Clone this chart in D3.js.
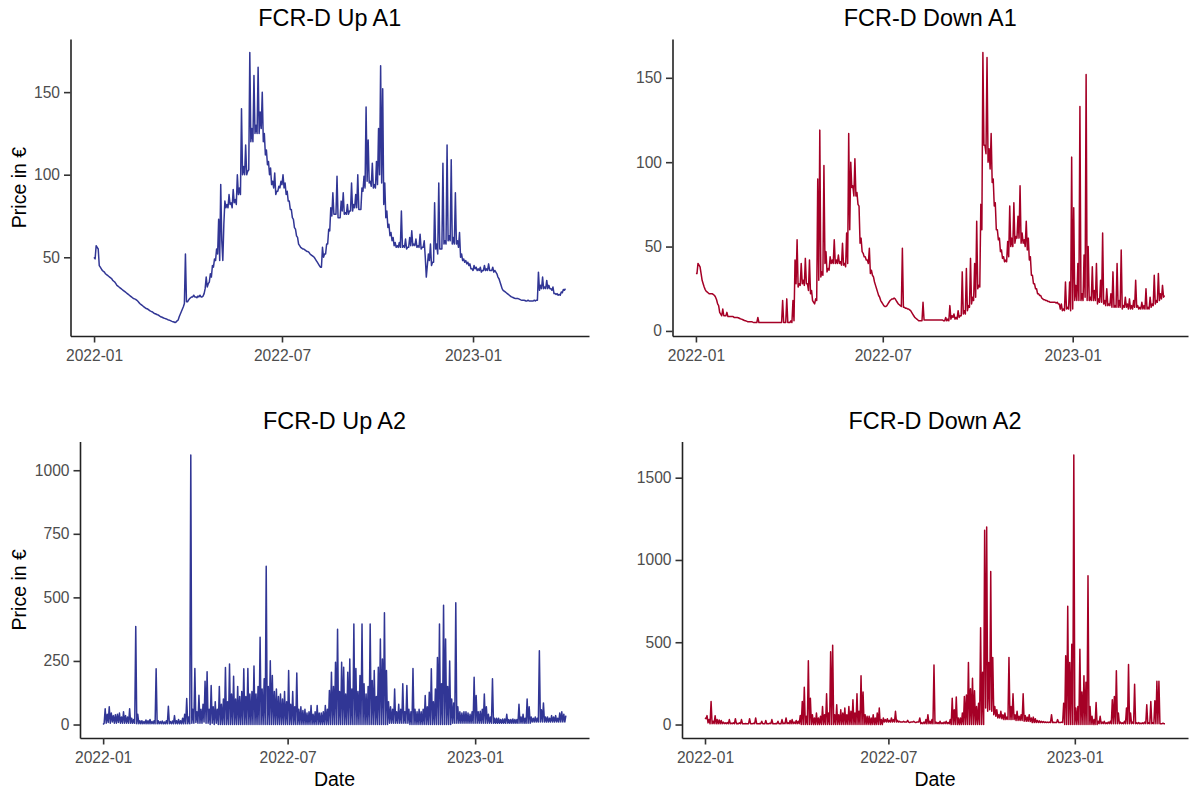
<!DOCTYPE html>
<html>
<head>
<meta charset="utf-8">
<script src="https://cdn.jsdelivr.net/npm/d3@7"></script>
<style>
  body { margin: 0; background: #fff; }
  svg text { font-family: "Liberation Sans", Arial, sans-serif; }
</style>
</head>
<body>
<svg id="chart"></svg>
<script>
// readings every 2 days from 2022-01-01 to 2023-03-31;
// the *Low arrays hold the bottom of the hourly band on the day in between
var startDate = new Date(2022, 0, 1);
var stepDays = 2;
var xTickDates = [new Date(2022, 0, 1), new Date(2022, 6, 1), new Date(2023, 0, 1)];

var upA1 = [
  50, 57, 55, 44, 42, 41, 39.5, 38.5, 37.5, 36,
  35, 33, 32, 31, 30, 29, 28, 27, 26, 25,
  24.5, 23.5, 22, 21, 20, 19, 18.5, 17.5, 17, 16,
  15.5, 15, 14, 13.5, 13, 12.5, 12, 11.5, 11, 10.5,
  11.5, 14, 17, 20, 52, 23, 25, 26, 27, 26,
  26.5, 27, 26, 28, 38, 34, 40, 45, 49, 55,
  73, 94, 48, 84, 82, 88, 83, 91, 85, 100,
  92, 140, 105, 118, 102, 174, 128, 160, 130, 165,
  138, 150, 125, 115, 108, 104, 96, 101, 90, 93,
  96, 100, 95, 90, 84, 79, 73, 67, 62, 57,
  55.5, 55, 54, 53.5, 52, 51, 50, 48, 46, 44,
  56, 52, 58, 67, 80, 89, 76, 99, 74, 84,
  89, 77, 82, 78, 95, 82, 88, 100, 79, 92,
  99, 141, 121, 96, 107, 94, 108, 128, 166, 152,
  95, 78, 70, 65, 62, 59, 57, 59, 78, 57,
  61, 56, 62, 66, 58, 61, 57, 64, 56, 60,
  38, 52, 58, 47, 83, 58, 95, 55, 107, 60,
  118, 63, 109, 62, 89, 60, 65, 52, 49, 48,
  47, 46, 43, 45, 44, 43, 44, 42, 45, 43,
  46, 42, 44, 42, 40, 37, 33, 30, 29, 28,
  27, 26, 25.5, 25, 25, 24.5, 24, 24, 23.5, 24,
  23.5, 23.5, 24, 24, 41, 33, 38, 32, 36, 33,
  31, 32, 28, 28, 27.5, 29, 30.5, 31
];

var upA1Low = [
  49, 56, 45, 43, 41.5, 40, 39, 38, 37, 35.5,
  34, 32.5, 31.5, 30.5, 29.5, 28.5, 27.5, 26.5, 25.5, 24.8,
  24, 22.8, 21.5, 20.5, 19.5, 18.8, 18, 17.2, 16.5, 15.8,
  15.2, 14.5, 13.8, 13.2, 12.8, 12.2, 11.8, 11.2, 10.8, 10.8,
  12, 15.5, 18.5, 22, 23, 24, 25.5, 26, 26, 25.5,
  26, 26, 26.5, 31, 32, 35, 38, 44, 48, 52,
  48, 60, 70, 80, 80, 82, 80, 83, 82, 88,
  88, 100, 100, 100, 103, 120, 120, 125, 125, 125,
  128, 120, 112, 106, 100, 94, 92, 88, 90, 92,
  94, 92, 88, 84, 79, 74, 68, 63, 58, 56,
  55, 54.5, 53.5, 53, 51.5, 50.5, 49, 47, 45, 44,
  50, 52, 58, 66, 75, 76, 76, 74, 74, 78,
  76, 76, 76, 78, 78, 80, 80, 79, 79, 90,
  92, 96, 95, 93, 92, 92, 94, 100, 95, 82,
  74, 68, 63, 60, 57, 56, 56, 56, 56, 56,
  55, 56, 57, 57, 57, 56, 56, 55, 56, 50,
  45, 48, 45, 47, 55, 52, 55, 55, 58, 58,
  60, 60, 58, 58, 58, 56, 50, 48, 47, 46,
  45, 43, 42, 43, 42, 42, 41, 42, 42, 42,
  42, 42, 41, 41, 38, 35, 31, 29.5, 28.5, 27.5,
  26.5, 25.8, 25.2, 25, 24.8, 24.2, 24, 23.8, 23.5, 23.5,
  23.5, 23.5, 23.5, 24, 30, 31, 31, 31, 31, 31,
  30, 28, 27.5, 27, 27, 28.5, 30
];

var downA1 = [
  34, 40, 38, 30, 26, 23.5, 22.5, 22, 22, 21,
  18.5, 15, 10, 13, 9, 11, 8.5, 8.5, 8.5, 8,
  8, 7.5, 7, 6.5, 6, 5.5, 5.5, 5.5, 5, 5,
  8, 5, 5, 5, 5, 5, 5, 5, 5, 5,
  5, 5, 18, 5, 19, 5, 6, 18, 42, 54,
  28, 40, 30, 43, 28, 42, 24, 17, 19, 90,
  119, 35, 98, 47, 37, 44, 42, 54, 42, 45,
  41, 52, 40, 58, 117, 100, 86, 102, 82, 74,
  55, 46, 44, 42, 49, 36, 32, 27, 23, 20,
  17, 15, 14.5, 16, 18, 19, 19.5, 18, 16, 15,
  49, 14, 13.5, 13, 12, 10, 8, 7, 6, 6,
  17, 6.5, 6.5, 6.5, 6.5, 6.5, 6.5, 6.5, 6.5, 6.5,
  6, 8, 7, 15, 9, 10, 8, 12, 9, 35,
  12, 37, 15, 43, 20, 40, 65, 27, 75, 165,
  110, 162, 108, 117, 90, 76, 60, 55, 48, 44,
  42, 53, 74, 55, 76, 56, 68, 86, 58, 54,
  65, 55, 44, 33, 28, 25, 22, 21, 19, 18.5,
  18, 17.5, 17, 17, 17, 17, 16, 16, 13, 29,
  14, 29, 103, 73, 27, 40, 133, 22, 45, 152,
  50, 20, 38, 24, 40, 19, 30, 58, 18, 25,
  16, 22, 35, 15, 40, 18, 48, 15, 20, 16,
  19, 15, 18, 30, 15, 14, 17, 15, 25, 14,
  20, 16, 33, 18, 34, 22, 27, 21
];

var downA1Low = [
  34, 39, 34, 28, 24.5, 23, 22, 22, 21.5, 20,
  16, 11, 9, 9, 9, 8.5, 8.5, 8.5, 8, 8,
  7.8, 7.2, 6.8, 6.2, 5.8, 5.5, 5.5, 5.2, 5, 5,
  5, 5, 5, 5, 5, 5, 5, 5, 5, 5,
  5, 5, 5, 5, 5, 5, 5, 6, 28, 26,
  27, 28, 27, 28, 24, 22, 18, 16, 18, 30,
  32, 33, 40, 35, 36, 40, 40, 40, 40, 40,
  39, 39, 38, 40, 60, 85, 80, 80, 75, 52,
  47, 44, 42, 40, 34, 33, 29, 25, 21, 18,
  16, 14.5, 15, 17, 18.5, 19, 19, 17, 15.5, 14.5,
  14, 13.5, 13, 12.5, 11, 9, 7.5, 6.5, 6, 6,
  6.5, 6.5, 6.5, 6.5, 6.5, 6.5, 6.5, 6.5, 6.5, 6.5,
  6, 6, 6, 7, 8, 7, 7, 8, 9, 10,
  10, 12, 14, 16, 18, 20, 25, 26, 60, 110,
  105, 100, 96, 88, 74, 60, 54, 47, 43, 41,
  41, 44, 50, 50, 52, 55, 55, 52, 52, 50,
  48, 42, 33, 28, 25, 22, 21, 19.5, 18.5, 18,
  17.5, 17, 17, 17, 16.5, 16, 13, 12, 12, 13,
  13, 12, 13, 18, 18, 18, 18, 18, 20, 18,
  18, 18, 18, 18, 16, 17, 17, 16, 15, 15,
  15, 14, 14, 14, 14, 14, 13, 14, 14, 13,
  13, 13, 14, 14, 13, 13, 13, 13, 13, 13,
  14, 15, 16, 17, 18, 19, 20
];

var upA2 = [
  0, 62, 40, 70, 45, 35, 38, 40, 45, 30,
  50, 35, 30, 62, 25, 20, 385, 40, 15, 15,
  12, 18, 15, 20, 12, 15, 219, 15, 12, 14,
  10, 15, 72, 12, 14, 35, 15, 20, 15, 25,
  40, 102, 30, 1060, 60, 220, 50, 115, 60, 80,
  170, 208, 60, 153, 70, 90, 60, 150, 80, 100,
  224, 90, 238, 120, 190, 100, 150, 110, 130, 219,
  110, 220, 120, 130, 230, 120, 150, 343, 140, 180,
  622, 150, 251, 193, 130, 140, 110, 120, 100, 130,
  90, 212, 80, 130, 70, 203, 60, 70, 55, 60,
  45, 50, 75, 40, 50, 75, 45, 45, 50, 75,
  60, 134, 206, 150, 245, 375, 130, 245, 225, 120,
  206, 258, 140, 395, 220, 130, 193, 395, 160, 120,
  150, 395, 173, 212, 110, 225, 336, 258, 440, 212,
  90, 70, 60, 140, 50, 80, 60, 160, 50, 153,
  60, 50, 220, 60, 50, 60, 50, 60, 114, 70,
  127, 219, 90, 140, 264, 395, 160, 469, 336, 150,
  250, 100, 85, 479, 70, 50, 45, 50, 50, 45,
  40, 50, 186, 114, 50, 52, 60, 120, 70, 40,
  30, 180, 25, 25, 25, 20, 22, 22, 40, 20,
  20, 22, 20, 20, 80, 30, 40, 25, 100, 70,
  30, 25, 30, 25, 290, 58, 85, 30, 30, 25,
  35, 30, 35, 25, 45, 50, 40, 35
];

var upA2Low = [
  5, 5, 8, 5, 10, 5, 5, 8, 5, 5,
  5, 5, 5, 5, 5, 5, 3, 3, 3, 3,
  3, 3, 3, 3, 3, 3, 3, 3, 3, 3,
  3, 3, 3, 3, 3, 3, 3, 3, 3, 3,
  3, 3, 3, 5, 5, 8, 5, 5, 5, 10,
  5, 5, 0, 5, 0, 5, 0, 0, 0, 0,
  0, 0, 0, 0, 0, 0, 0, 0, 0, 0,
  0, 0, 0, 0, 0, 0, 0, 0, 0, 0,
  0, 0, 0, 0, 0, 0, 0, 0, 0, 0,
  0, 0, 0, 0, 0, 0, 0, 0, 0, 0,
  0, 0, 0, 0, 0, 0, 0, 0, 0, 0,
  0, 0, 0, 0, 0, 0, 0, 0, 0, 0,
  0, 0, 0, 0, 0, 0, 0, 0, 0, 0,
  0, 0, 0, 0, 0, 0, 0, 0, 0, 0,
  5, 5, 5, 5, 5, 5, 5, 5, 5, 5,
  0, 0, 0, 0, 0, 0, 0, 0, 0, 0,
  0, 0, 0, 0, 0, 0, 0, 0, 0, 0,
  0, 5, 5, 5, 5, 5, 5, 5, 5, 5,
  5, 5, 5, 5, 5, 5, 5, 5, 5, 5,
  5, 5, 5, 5, 5, 5, 5, 5, 5, 5,
  5, 5, 5, 5, 5, 5, 5, 5, 5, 5,
  10, 10, 10, 10, 10, 10, 10, 10, 10, 10,
  10, 10, 10, 10, 10, 10, 10
];

var downA2 = [
  40, 54, 30, 140, 20, 54, 30, 28, 25, 15,
  10, 12, 30, 8, 10, 35, 6, 10, 30, 5,
  6, 5, 35, 5, 8, 40, 5, 6, 20, 5,
  25, 5, 8, 30, 5, 6, 20, 5, 30, 8,
  40, 10, 25, 30, 15, 25, 20, 55, 140, 227,
  50, 387, 160, 60, 40, 70, 40, 50, 110, 60,
  187, 70, 442, 482, 60, 120, 60, 90, 70, 100,
  60, 110, 80, 150, 70, 187, 80, 297, 197, 60,
  50, 50, 40, 60, 40, 70, 100, 30, 40, 30,
  35, 25, 40, 30, 80, 25, 20, 15, 20, 15,
  25, 12, 15, 20, 12, 15, 40, 10, 15, 30,
  60, 20, 30, 361, 15, 12, 20, 10, 15, 20,
  12, 30, 160, 90, 167, 40, 40, 70, 170, 180,
  377, 218, 281, 205, 110, 130, 588, 317, 1181, 1200,
  377, 930, 408, 110, 90, 60, 80, 60, 70, 45,
  408, 110, 187, 60, 80, 50, 60, 187, 55, 45,
  60, 40, 45, 35, 25, 22, 20, 18, 16, 15,
  15, 60, 14, 12, 30, 12, 15, 130, 418, 718,
  377, 488, 1638, 100, 110, 458, 197, 297, 257, 904,
  110, 50, 30, 134, 20, 50, 15, 20, 10, 15,
  20, 150, 170, 327, 70, 15, 10, 20, 100, 365,
  70, 15, 245, 10, 12, 8, 10, 15, 120, 10,
  140, 10, 144, 263, 263, 5, 8, 5
];

var downA2Low = [
  35, 10, 5, 5, 5, 5, 5, 5, 5, 5,
  5, 5, 5, 5, 5, 5, 5, 5, 5, 5,
  5, 5, 5, 5, 5, 5, 5, 5, 5, 5,
  5, 5, 5, 5, 5, 5, 5, 5, 5, 5,
  5, 5, 5, 5, 5, 5, 5, 0, 0, 0,
  0, 0, 0, 0, 0, 0, 0, 0, 0, 0,
  0, 0, 0, 0, 0, 0, 0, 0, 0, 0,
  0, 0, 0, 0, 0, 0, 0, 0, 0, 0,
  0, 0, 0, 0, 0, 0, 0, 0, 15, 15,
  15, 15, 15, 15, 15, 15, 15, 15, 15, 15,
  15, 15, 15, 15, 15, 15, 5, 5, 5, 5,
  5, 5, 5, 5, 5, 5, 5, 5, 5, 5,
  5, 0, 0, 0, 0, 0, 0, 0, 0, 0,
  0, 0, 0, 0, 0, 0, 0, 0, 100, 80,
  90, 80, 60, 50, 40, 40, 35, 30, 30, 30,
  30, 30, 30, 25, 25, 25, 25, 20, 20, 20,
  18, 12, 12, 12, 12, 12, 12, 12, 12, 12,
  12, 12, 12, 12, 12, 12, 12, 0, 0, 0,
  0, 0, 0, 0, 0, 0, 0, 0, 0, 0,
  0, 0, 0, 0, 5, 5, 5, 5, 5, 5,
  5, 5, 5, 5, 5, 5, 5, 5, 5, 5,
  5, 5, 5, 5, 5, 5, 5, 5, 5, 5,
  5, 5, 5, 5, 5, 5, 5
];

var titles = ["FCR-D Up A1", "FCR-D Down A1", "FCR-D Up A2", "FCR-D Down A2"];
var yTicksUpA1 = [50, 100, 150];
var yTicksDownA1 = [0, 50, 100, 150];
var yTicksUpA2 = [0, 250, 500, 750, 1000];
var yTicksDownA2 = [0, 500, 1000, 1500];

var blue = "#313695";
var red = "#a50026";

var width = 1195, height = 793;
var svg = d3.select("#chart").attr("width", width).attr("height", height);

var panels = [
  { title: titles[0], values: upA1, lows: upA1Low, color: blue, ticks: yTicksUpA1, box: { l: 70.5, r: 589, t: 39, b: 336 }, yLab: true, xLab: false },
  { title: titles[1], values: downA1, lows: downA1Low, color: red, ticks: yTicksDownA1, box: { l: 672.5, r: 1188, t: 39, b: 336 }, yLab: false, xLab: false },
  { title: titles[2], values: upA2, lows: upA2Low, color: blue, ticks: yTicksUpA2, box: { l: 80, r: 589, t: 441.5, b: 738 }, yLab: true, xLab: true },
  { title: titles[3], values: downA2, lows: downA2Low, color: red, ticks: yTicksDownA2, box: { l: 682, r: 1188, t: 441.5, b: 738 }, yLab: false, xLab: true }
];

function expand(ext, frac) {
  var span = ext[1] - ext[0];
  return [ext[0] - span * frac, ext[1] + span * frac];
}

panels.forEach(function(p) {
  var data = [];
  p.values.forEach(function(v, i) {
    data.push({ date: d3.timeDay.offset(startDate, i * stepDays), value: v });
    if (i < p.lows.length) {
      data.push({ date: d3.timeDay.offset(startDate, i * stepDays + 1), value: p.lows[i] });
    }
  });
  var xExt = d3.extent(data, function(d) { return d.date; });
  var xSpan = xExt[1] - xExt[0];
  var x = d3.scaleTime()
            .domain([new Date(+xExt[0] - xSpan * 0.05), new Date(+xExt[1] + xSpan * 0.05)])
            .range([p.box.l, p.box.r]);
  var y = d3.scaleLinear()
            .domain(expand(d3.extent(data, function(d) { return d.value; }), 0.05))
            .range([p.box.b, p.box.t]);

  var g = svg.append("g");

  var line = d3.line()
               .x(function(d) { return x(d.date); })
               .y(function(d) { return y(d.value); });
  g.append("path")
   .datum(data)
   .attr("d", line)
   .attr("fill", "none")
   .attr("stroke", p.color)
   .attr("stroke-width", 1.5)
   .attr("stroke-linejoin", "round");

  var xAxis = g.append("g")
               .attr("transform", "translate(0," + p.box.b + ")")
               .call(d3.axisBottom(x)
                       .tickValues(xTickDates)
                       .tickFormat(d3.timeFormat("%Y-%m"))
                       .tickSizeInner(6.5)
                       .tickSizeOuter(0)
                       .tickPadding(7));
  var yAxis = g.append("g")
               .attr("transform", "translate(" + p.box.l + ",0)")
               .call(d3.axisLeft(y)
                       .tickValues(p.ticks)
                       .tickFormat(d3.format("d"))
                       .tickSizeInner(6.5)
                       .tickSizeOuter(0)
                       .tickPadding(4));

  [xAxis, yAxis].forEach(function(a) {
    a.select(".domain").attr("stroke", "#222").attr("stroke-width", 1.6);
    a.selectAll(".tick line").attr("stroke", "#333").attr("stroke-width", 1.6);
    a.selectAll(".tick text").attr("fill", "#4d4d4d").style("font-size", "15.6px");
  });

  g.append("text")
   .attr("x", (p.box.l + p.box.r) / 2)
   .attr("y", p.box.t - 13)
   .attr("text-anchor", "middle")
   .style("font-size", "23.4px")
   .attr("fill", "#000")
   .text(p.title);

  if (p.yLab) {
    g.append("text")
     .attr("transform", "translate(26," + ((p.box.t + p.box.b) / 2) + ") rotate(-90)")
     .attr("text-anchor", "middle")
     .style("font-size", "19.5px")
     .attr("fill", "#000")
     .text("Price in €");
  }
  if (p.xLab) {
    g.append("text")
     .attr("x", (p.box.l + p.box.r) / 2)
     .attr("y", p.box.b + 48)
     .attr("text-anchor", "middle")
     .style("font-size", "19.5px")
     .attr("fill", "#000")
     .text("Date");
  }
});
</script>
</body>
</html>
